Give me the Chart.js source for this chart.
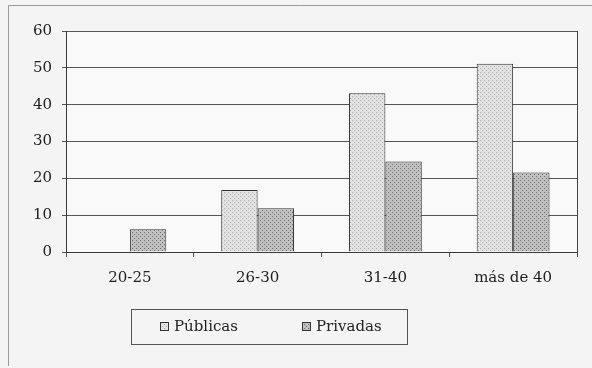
<!DOCTYPE html>
<html>
<head>
<meta charset="utf-8">
<script src="https://cdn.jsdelivr.net/npm/chart.js@4.4.0/dist/chart.umd.min.js"></script>
<style>
  html, body { margin: 0; padding: 0; background: #f4f4f4; }
  #wrap { position: relative; width: 592px; height: 368px; }
</style>
</head>
<body>
<div id="wrap"><canvas id="chart_edades"></canvas></div>
<script>
// data
var categorias = ['20-25', '26-30', '31-40', 'más de 40'];
var publicas = [0, 16.8, 43.1, 51.1];
var privadas = [6.2, 11.9, 24.6, 21.6];
var yTicks = [0, 10, 20, 30, 40, 50, 60];

function dotPattern(bg, dot) {
    var c = document.createElement('canvas');
    c.width = 4; c.height = 4;
    var g = c.getContext('2d');
    g.fillStyle = bg;
    g.fillRect(0, 0, 4, 4);
    g.fillStyle = dot;
    g.fillRect(0, 0, 1, 1);
    g.fillRect(2, 2, 1, 1);
    return g.createPattern(c, 'repeat');
}
var fillPub = dotPattern('#e2e2e2', '#a8a8a8');
var fillPriv = dotPattern('#c0c0c0', '#6e6e6e');

var serif = 'DejaVu Serif';

var chart_edades = new Chart(document.getElementById('chart_edades'), {
    type: 'bar',
    data: {
        labels: categorias,
        datasets: [
            {
                label: 'Públicas',
                data: publicas,
                backgroundColor: fillPub,
                borderColor: '#333',
                borderWidth: 1
            },
            {
                label: 'Privadas',
                data: privadas,
                backgroundColor: fillPriv,
                borderColor: '#333',
                borderWidth: 1
            }
        ]
    },
    options: {
        animation: false,
        responsive: true,
        maintainAspectRatio: false,
        layout: {
            padding: { left: 8, top: 31, right: 15, bottom: 0 }
        },
        datasets: {
            bar: { barPercentage: 1, categoryPercentage: 0.57 }
        },
        plugins: {
            legend: { display: false },
            tooltip: { enabled: false }
        },
        scales: {
            x: {
                offset: true,
                grid: {
                    offset: true,
                    drawOnChartArea: false,
                    drawTicks: true,
                    tickLength: 5,
                    color: '#555'
                },
                border: { color: '#3a3a3a', width: 1 },
                ticks: {
                    color: '#222',
                    font: { family: serif, size: 15 },
                    padding: 12,
                    maxRotation: 0
                },
                afterFit: function (s) { s.height = 116; }
            },
            y: {
                min: 0,
                max: 60,
                afterBuildTicks: function (s) {
                    s.ticks = yTicks.map(function (v) { return { value: v }; });
                },
                grid: {
                    color: '#555',
                    tickLength: 4,
                    lineWidth: 1
                },
                border: { color: '#3a3a3a', width: 1 },
                ticks: {
                    color: '#222',
                    font: { family: serif, size: 15 },
                    padding: 10
                },
                afterFit: function (s) { s.width = 58; }
            }
        }
    },
    plugins: [{
        id: 'marco',
        beforeDraw: function (chart) {
            var c = chart.ctx;
            c.save();
            c.fillStyle = '#f4f4f4';
            c.fillRect(0, 0, chart.width, chart.height);
            c.fillStyle = '#f9f9f9';
            var a = chart.chartArea;
            c.fillRect(a.left, a.top, a.right - a.left, a.bottom - a.top);
            c.strokeStyle = '#9a9a9a';
            c.lineWidth = 1;
            c.beginPath();
            c.moveTo(8.5, 366);
            c.lineTo(8.5, 5.5);
            c.lineTo(592, 5.5);
            c.stroke();
            c.restore();
        },
        afterDraw: function (chart) {
            var c = chart.ctx;
            var a = chart.chartArea;
            c.save();
            // right edge of plot
            c.strokeStyle = '#444';
            c.lineWidth = 1;
            c.beginPath();
            c.moveTo(Math.round(a.right) + 0.5, a.top);
            c.lineTo(Math.round(a.right) + 0.5, a.bottom + 5);
            c.stroke();
            // legend box
            c.strokeStyle = '#555';
            c.strokeRect(131.5, 309.5, 276, 35);
            var items = [
                { x: 160, fill: fillPub, label: chart.data.datasets[0].label },
                { x: 302, fill: fillPriv, label: chart.data.datasets[1].label }
            ];
            c.font = '15px "' + serif + '"';
            c.textBaseline = 'middle';
            items.forEach(function (it) {
                c.fillStyle = it.fill;
                c.fillRect(it.x, 322, 9, 9);
                c.strokeStyle = '#333';
                c.strokeRect(it.x + 0.5, 322.5, 8, 8);
                c.fillStyle = '#222';
                c.fillText(it.label, it.x + 14, 327);
            });
            c.restore();
        }
    }]
});
</script>
</body>
</html>
